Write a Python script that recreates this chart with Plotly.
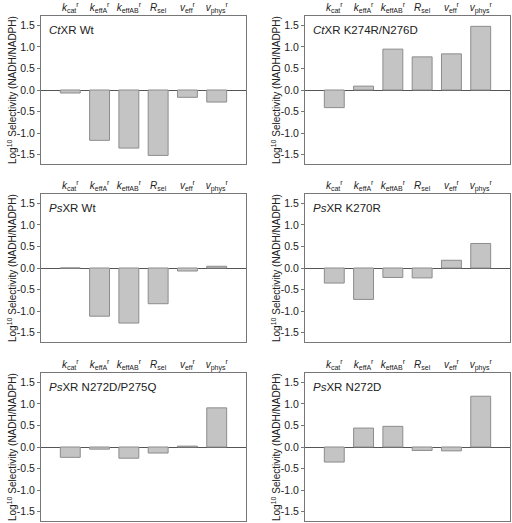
import plotly.graph_objects as go

categories = ["kcat", "keffA", "keffAB", "Rsel", "veff", "vphys"]
category_labels = [
    "<i>k</i><sub>cat</sub><sup>r</sup>",
    "<i>k</i><sub>effA</sub><sup>r</sup>",
    "<i>k</i><sub>effAB</sub><sup>r</sup>",
    "<i>R</i><sub>sel</sub>",
    "<i>v</i><sub>eff</sub><sup>r</sup>",
    "<i>v</i><sub>phys</sub><sup>r</sup>",
]
panel_titles = [
    "<i>Ct</i>XR Wt",
    "<i>Ct</i>XR K274R/N276D",
    "<i>Ps</i>XR Wt",
    "<i>Ps</i>XR K270R",
    "<i>Ps</i>XR N272D/P275Q",
    "<i>Ps</i>XR N272D",
]
ct_wt = [-0.07, -1.17, -1.35, -1.52, -0.17, -0.28]
ct_k274r_n276d = [-0.41, 0.09, 0.95, 0.77, 0.84, 1.48]
ps_wt = [0.0, -1.12, -1.28, -0.83, -0.07, 0.04]
ps_k270r = [-0.35, -0.73, -0.22, -0.23, 0.18, 0.57]
ps_n272d_p275q = [-0.24, -0.05, -0.26, -0.14, 0.02, 0.91]
ps_n272d = [-0.35, 0.44, 0.48, -0.08, -0.09, 1.18]
panel_values = [ct_wt, ct_k274r_n276d, ps_wt, ps_k270r, ps_n272d_p275q, ps_n272d]

y_tick_vals = [1.5, 1.0, 0.5, 0.0, -0.5, -1.0, -1.5]
y_tick_text = ["1.5", "1.0", "0.5", "0.0", "-0.5", "-1.0", "-1.5"]
y_title = "Log<sup>10</sup> Selectivity (NADH/NADPH)"

W, H = 512, 523
col_px = [(41, 246), (305, 510)]
row_px = [(16, 164), (194, 342), (373, 521)]

FONT = "Arial, Liberation Sans, sans-serif"
fig = go.Figure()
layout = dict(
    width=W, height=H,
    margin=dict(l=0, r=0, t=0, b=0),
    paper_bgcolor="white", plot_bgcolor="white",
    showlegend=False,
    font=dict(family=FONT, color="#222222"),
)
annotations = []
for i, vals in enumerate(panel_values):
    r, c = divmod(i, 2)
    n = i + 1
    xa = "x" if n == 1 else f"x{n}"
    ya = "y" if n == 1 else f"y{n}"
    fig.add_trace(go.Bar(
        x=list(range(len(categories))), y=vals,
        xaxis=xa, yaxis=ya,
        width=0.68,
        marker=dict(color="#c4c4c4", line=dict(color="#8c8c8c", width=1)),
        hoverinfo="skip",
    ))
    x0, x1 = col_px[c]
    t0, t1 = row_px[r]
    layout[f"xaxis{'' if n == 1 else n}"] = dict(
        domain=[x0 / W, x1 / W], anchor=ya, side="top",
        range=[-1, 6], tickvals=list(range(len(categories))), ticktext=category_labels,
        showline=True, mirror=True, linecolor="#777777", linewidth=1,
        showgrid=False, zeroline=False, ticks="",
        tickfont=dict(size=10, family=FONT, color="#222222"),
        fixedrange=True,
    )
    layout[f"yaxis{'' if n == 1 else n}"] = dict(
        domain=[1 - t1 / H, 1 - t0 / H], anchor=xa,
        range=[-1.72, 1.72], tickvals=y_tick_vals, ticktext=y_tick_text,
        showline=True, mirror=True, linecolor="#777777", linewidth=1,
        showgrid=False, zeroline=True, zerolinecolor="#555555", zerolinewidth=1,
        ticks="outside", ticklen=3, tickcolor="#777777",
        tickfont=dict(size=10.5, family=FONT, color="#222222"),
        fixedrange=True,
    )
    annotations.append(dict(
        text=panel_titles[i], xref=f"{xa} domain", yref=f"{ya} domain",
        x=0.03, y=1 - 6 / 148, xanchor="left", yanchor="top", showarrow=False,
        font=dict(size=11.5, family=FONT, color="#222222"),
    ))
    annotations.append(dict(
        text=y_title, xref="paper", yref=f"{ya} domain",
        x=(x0 - 29) / W, y=0.5, xanchor="center", yanchor="middle",
        textangle=-90, showarrow=False,
        font=dict(size=10, family=FONT, color="#222222"),
    ))
layout["annotations"] = annotations
fig.update_layout(**layout)
fig.write_html("out.html", config={"displayModeBar": False},
               post_script="document.body.style.margin='0';")
